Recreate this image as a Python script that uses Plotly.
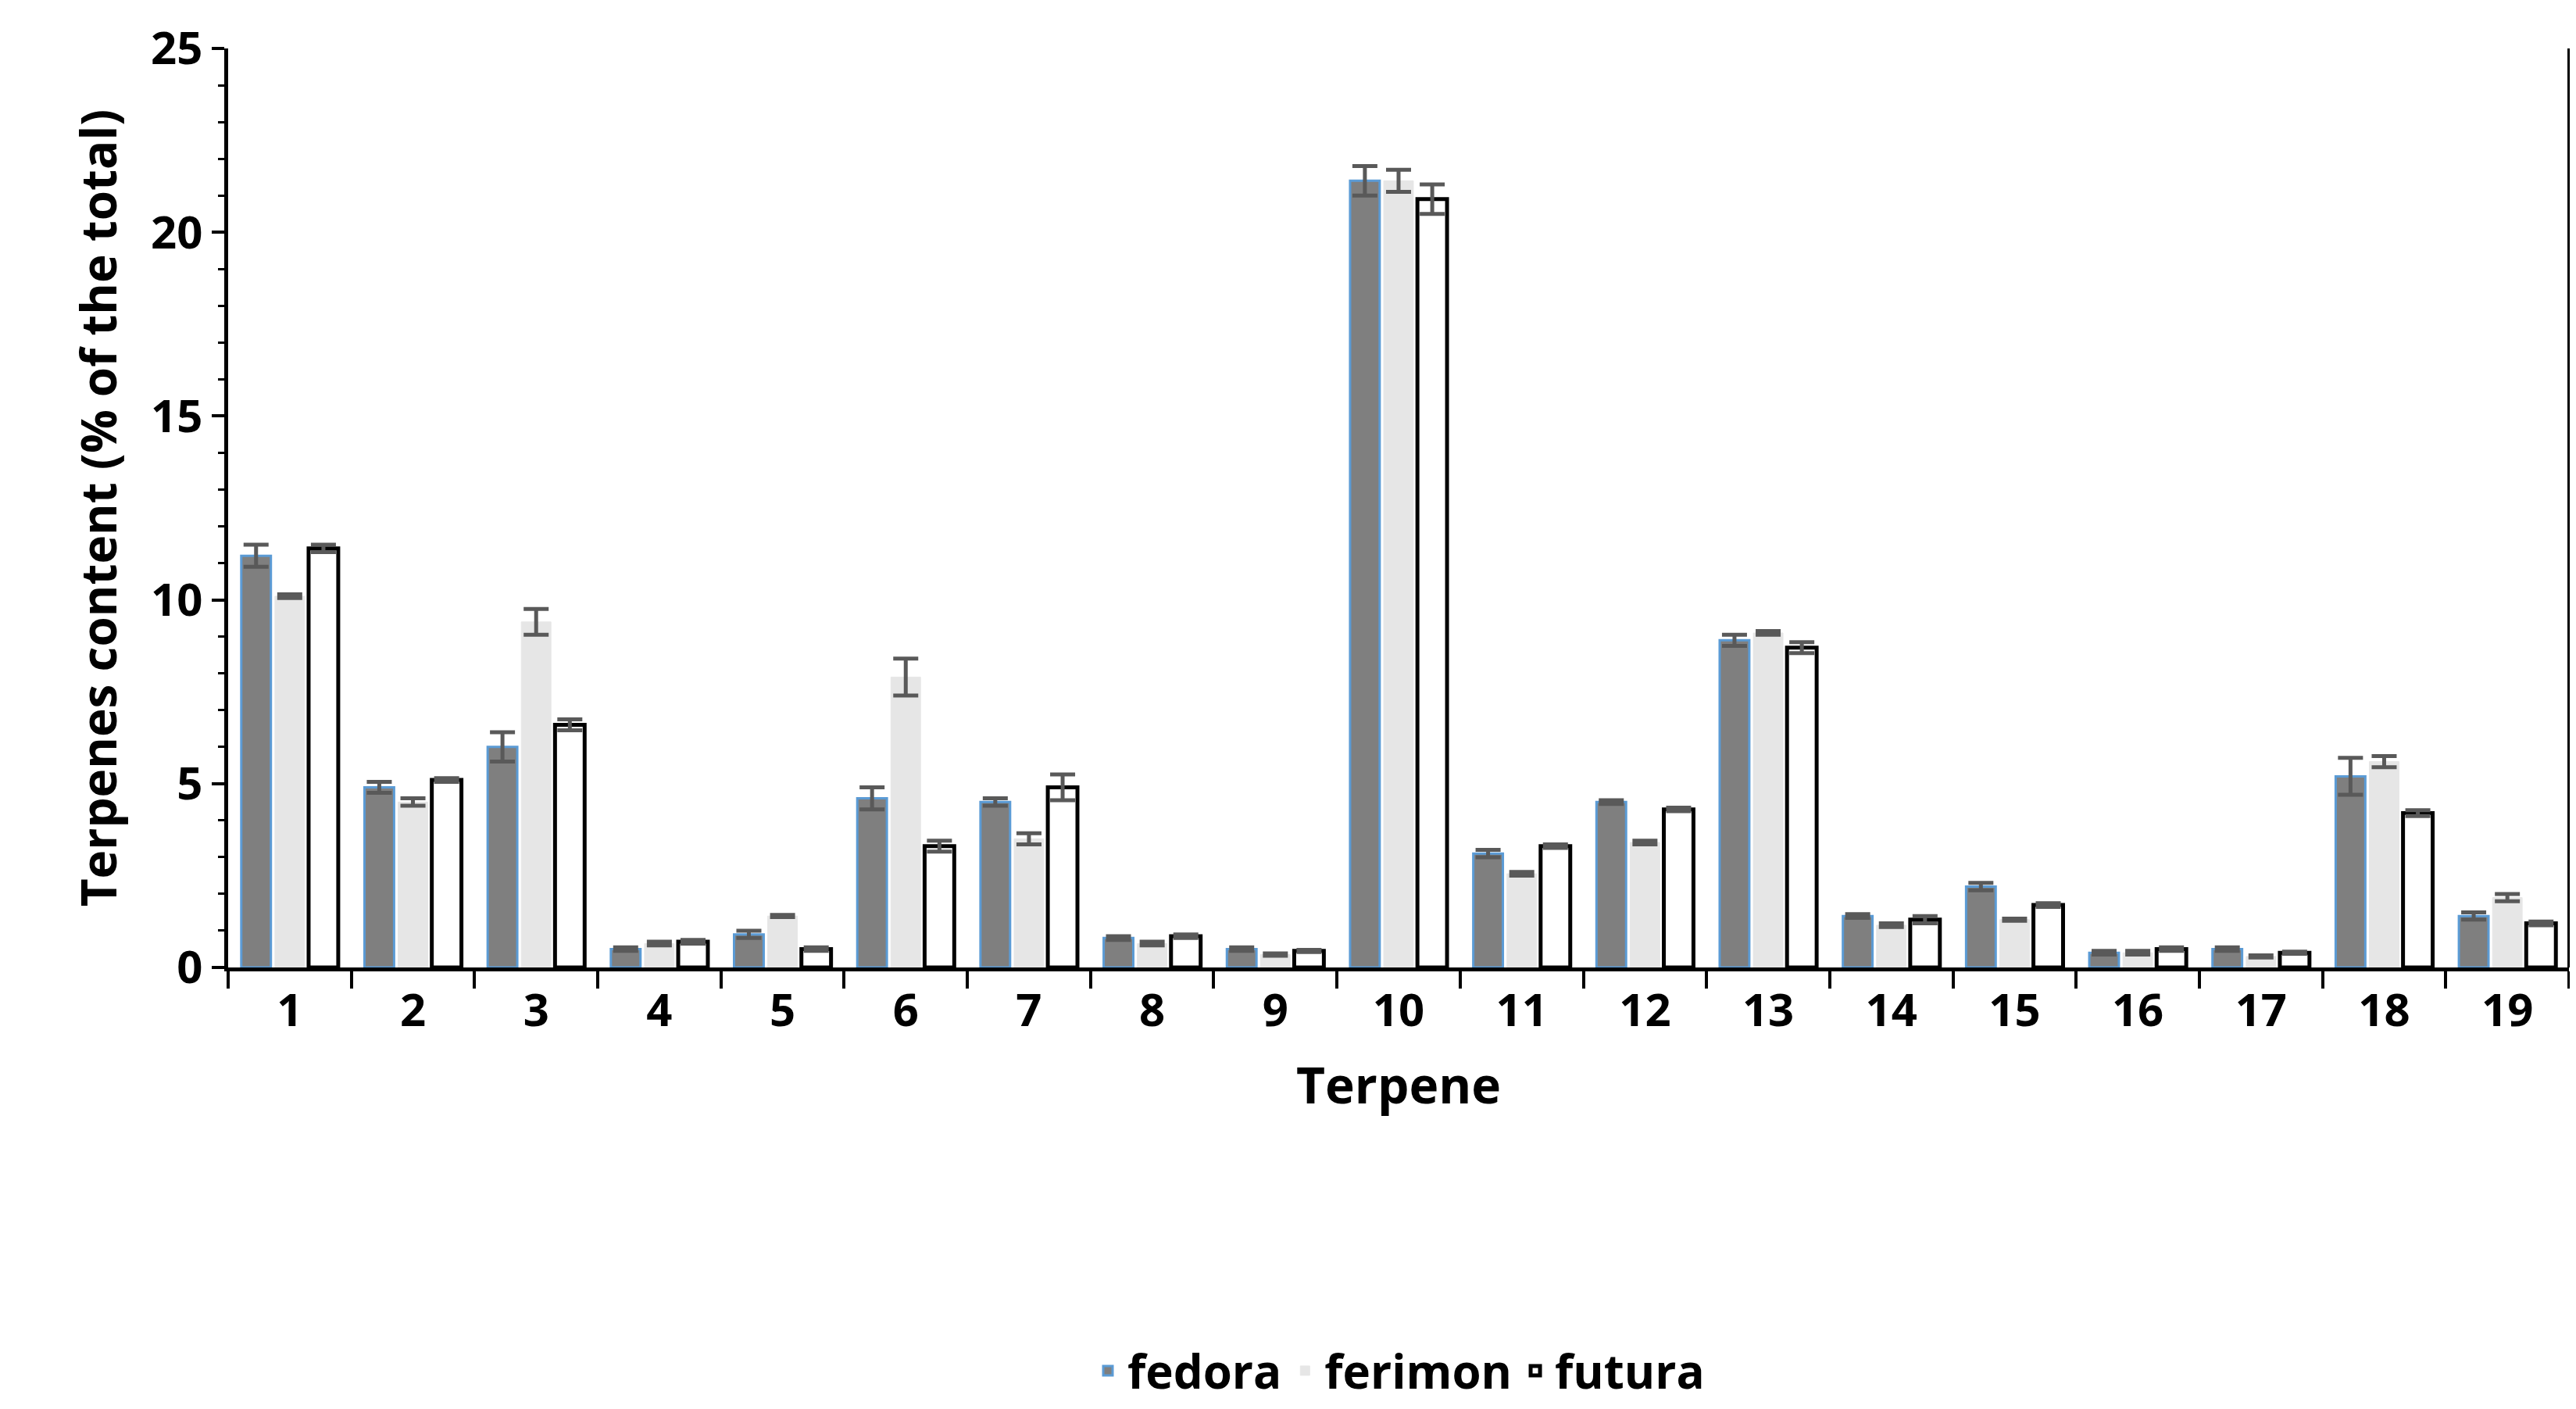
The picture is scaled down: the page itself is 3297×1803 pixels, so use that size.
import plotly.graph_objects as go

terpenes = [str(i) for i in range(1, 20)]
fedora = [11.2, 4.9, 6.0, 0.5, 0.9, 4.6, 4.5, 0.8, 0.5, 21.4, 3.1, 4.5, 8.9, 1.4, 2.2, 0.4, 0.5, 5.2, 1.4]
fedora_err = [0.3, 0.15, 0.4, 0.05, 0.1, 0.3, 0.1, 0.05, 0.05, 0.4, 0.1, 0.05, 0.15, 0.05, 0.1, 0.05, 0.05, 0.5, 0.1]
ferimon = [10.1, 4.5, 9.4, 0.65, 1.4, 7.9, 3.5, 0.65, 0.35, 21.4, 2.55, 3.4, 9.1, 1.15, 1.3, 0.4, 0.3, 5.6, 1.9]
ferimon_err = [0.05, 0.1, 0.35, 0.05, 0.03, 0.5, 0.15, 0.05, 0.03, 0.3, 0.05, 0.05, 0.05, 0.05, 0.03, 0.05, 0.03, 0.15, 0.1]
futura = [11.4, 5.1, 6.6, 0.7, 0.5, 3.3, 4.9, 0.85, 0.45, 20.9, 3.3, 4.3, 8.7, 1.3, 1.7, 0.5, 0.4, 4.2, 1.2]
futura_err = [0.1, 0.05, 0.15, 0.05, 0.05, 0.15, 0.35, 0.05, 0.03, 0.4, 0.05, 0.05, 0.15, 0.1, 0.05, 0.05, 0.03, 0.08, 0.05]

err_style = dict(type="data", color="#595959", thickness=5, width=16)
fig = go.Figure()
fig.add_bar(x=terpenes, y=fedora, name="<b>fedora</b>", marker=dict(color="#7f7f7f", line=dict(color="#5b9bd5", width=3)),
            error_y=dict(array=fedora_err, **err_style))
fig.add_bar(x=terpenes, y=ferimon, name="<b>ferimon</b>", marker=dict(color="#e6e6e6", line=dict(color="#e6e6e6", width=1)),
            error_y=dict(array=ferimon_err, **err_style))
fig.add_bar(x=terpenes, y=futura, name="<b>futura</b>", marker=dict(color="white", line=dict(color="black", width=5)),
            error_y=dict(array=futura_err, **err_style))

fig.update_layout(
    width=3297, height=1803, plot_bgcolor="white", paper_bgcolor="white",
    margin=dict(l=284, r=17, t=42, b=489),
    barmode="group", bargap=0.18, bargroupgap=0.12,
    font=dict(family="Open Sans", size=58, color="black"),
    legend=dict(orientation="h", x=0.5, xanchor="center", y=-0.4, yanchor="top",
                font=dict(size=60, family="Open Sans"), traceorder="normal", itemwidth=40),
)
fig.update_xaxes(title=dict(text="<b>Terpene</b>", font=dict(size=64), standoff=40), showline=True, linecolor="black", linewidth=5,
                 ticks="outside", ticklen=22, tickwidth=4, tickcolor="black",
                 tickson="boundaries", mirror=False,
                 tickfont=dict(size=58), tickvals=terpenes, ticktext=[f"<b>{t}</b>" for t in terpenes])
fig.update_yaxes(title=dict(text="<b>Terpenes content (% of the total)</b>", font=dict(size=62), standoff=25), range=[0, 25],
                 tickvals=[0, 5, 10, 15, 20, 25], ticktext=[f"<b>{v}</b>" for v in [0, 5, 10, 15, 20, 25]],
                 showline=True, linecolor="black", linewidth=5, ticks="outside", ticklen=16, tickwidth=4,
                 tickcolor="black", showgrid=False, zeroline=False, tickfont=dict(size=58),
                 minor=dict(ticks="outside", ticklen=8, tickwidth=3, dtick=1, tickcolor="black"))
fig.add_shape(type="line", xref="paper", yref="paper", x0=1, x1=1, y0=0, y1=1, line=dict(color="black", width=4))
fig.write_html("out.html")
